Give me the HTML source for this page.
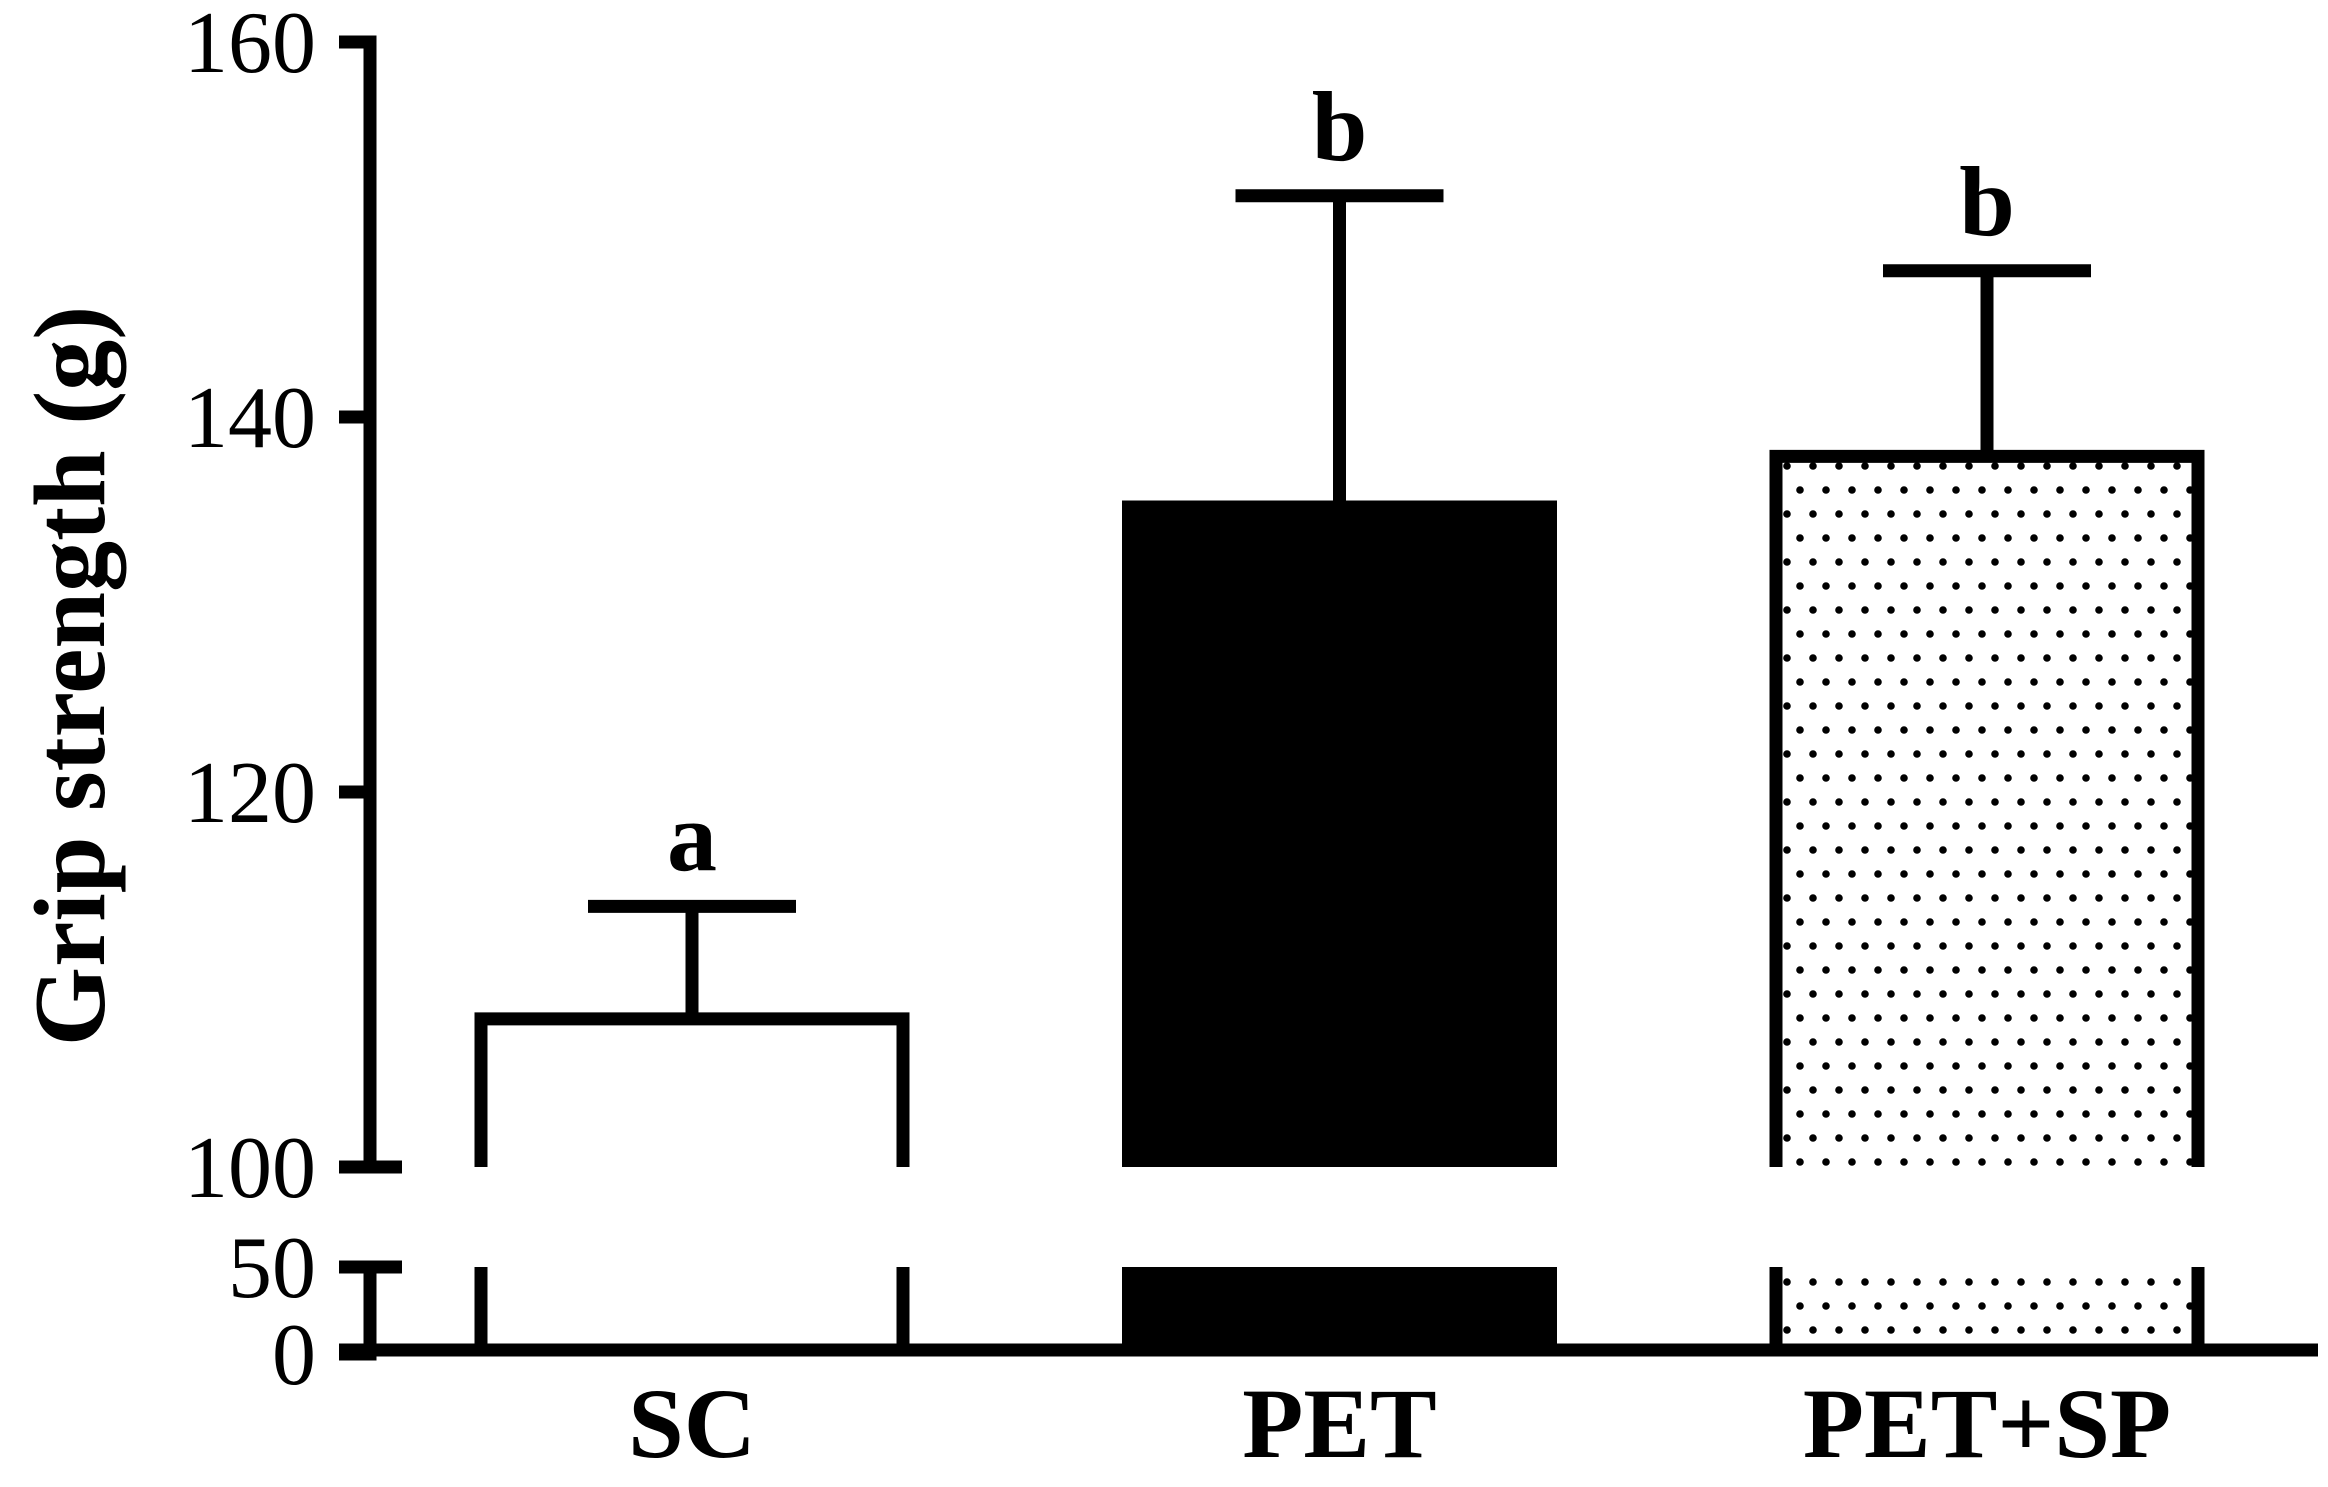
<!DOCTYPE html>
<html><head><meta charset="utf-8">
<style>
html,body{margin:0;padding:0;background:#fff;}
svg{display:block;}
text{fill:#000;}
</style></head>
<body>
<svg id="chart" width="2328" height="1487" viewBox="0 0 2328 1487" xmlns="http://www.w3.org/2000/svg">
<defs>
<pattern id="dots" x="0" y="0" width="26" height="48" patternUnits="userSpaceOnUse">
<circle cx="6" cy="10" r="3.8" fill="#000"/>
<circle cx="19" cy="34" r="3.8" fill="#000"/>
</pattern>
</defs>
<g id="plot"></g>
</svg>
<script>
const categories = ["SC", "PET", "PET+SP"];
const means = [107.9, 135.2, 137.9];
const errors = [6.0, 16.6, 9.9];
const sigLetters = ["a", "b", "b"];
const upperTicks = [100, 120, 140, 160];
const lowerTicks = [0, 50];

const NS = "http://www.w3.org/2000/svg";
const g = document.getElementById("plot");
const SW = 13;
const axisX = 370;
const xStart = 692, xStep = 647.5, barW = 422;
function xPos(i){ return xStart + i * xStep; }
function yUp(v){ return 1167 - (v - 100) * 18.75; }
function yLow(v){ return 1350 - v * (83 / 50); }

function el(tag, attrs, parent){
  const e = document.createElementNS(NS, tag);
  for (const k in attrs) e.setAttribute(k, attrs[k]);
  (parent || g).appendChild(e);
  return e;
}
function txt(s, attrs){ const t = el("text", attrs); t.textContent = s; return t; }

// axes
let a = el("line", {x1: axisX, y1: yUp(160) - SW/2, x2: axisX, y2: yUp(100), stroke: "#000", "stroke-width": SW});


a = el("line", {x1: axisX, y1: yLow(50), x2: axisX, y2: yLow(0), stroke: "#000", "stroke-width": SW});


a = el("line", {x1: 339, y1: yLow(0), x2: 2318, y2: yLow(0), stroke: "#000", "stroke-width": SW});



function tick(y, v, right){
  const t = el("line", {x1: 339, y1: y, x2: right ? 402 : axisX + SW/2, y2: y, stroke: "#000", "stroke-width": SW});
  
  
  const l = txt(String(v), {x: 316, y: y + 30, "text-anchor": "end", "font-family": "Liberation Serif, serif", "font-size": 88});
  
  
}
upperTicks.forEach(v => tick(yUp(v), v, v === 100));
lowerTicks.forEach(v => tick(v === 0 ? yLow(v) + 4 : yLow(v), v, v === 50));

// y title
const yt = txt("Grip strength (g)", {x: 0, y: 0, "text-anchor": "middle", "font-family": "Liberation Serif, serif", "font-weight": "bold", "font-size": 102, transform: "translate(104,676) rotate(-90)"});



const fills = ["none", "#000", "url(#dots)"];
categories.forEach((c, i) => {
  const cx = xPos(i), x0 = cx - barW/2, x1 = cx + barW/2;
  const top = yUp(means[i]);
  const grp = el("g", {});
  
  
  // upper fill
  if (fills[i] !== "none") {
    el("rect", {x: x0, y: top, width: barW, height: yUp(100) - top, fill: fills[i]}, grp);
    el("rect", {x: x0, y: yLow(50), width: barW, height: yLow(0) - yLow(50), fill: fills[i]}, grp);
  }
  el("path", {d: `M${x0},${yUp(100)} V${top} H${x1} V${yUp(100)}`, fill: "none", stroke: "#000", "stroke-width": SW, "stroke-linejoin": "miter"}, grp);
  el("path", {d: `M${x0},${yLow(50)} V${yLow(0)} M${x1},${yLow(50)} V${yLow(0)}`, fill: "none", stroke: "#000", "stroke-width": SW}, grp);
  // error bar
  const ey = yUp(means[i] + errors[i]);
  const eb = el("path", {d: `M${cx},${top} V${ey} M${cx - 104},${ey} H${cx + 104}`, fill: "none", stroke: "#000", "stroke-width": SW});
  
  
  const sl = txt(sigLetters[i], {x: cx, y: ey - 36, "text-anchor": "middle", "font-family": "Liberation Serif, serif", "font-weight": "bold", "font-size": 100});
  
  
  const cl = txt(c, {x: cx, y: 1457, "text-anchor": "middle", "font-family": "Liberation Serif, serif", "font-weight": "bold", "font-size": 100});
  
  
});
</script>
</body></html>
